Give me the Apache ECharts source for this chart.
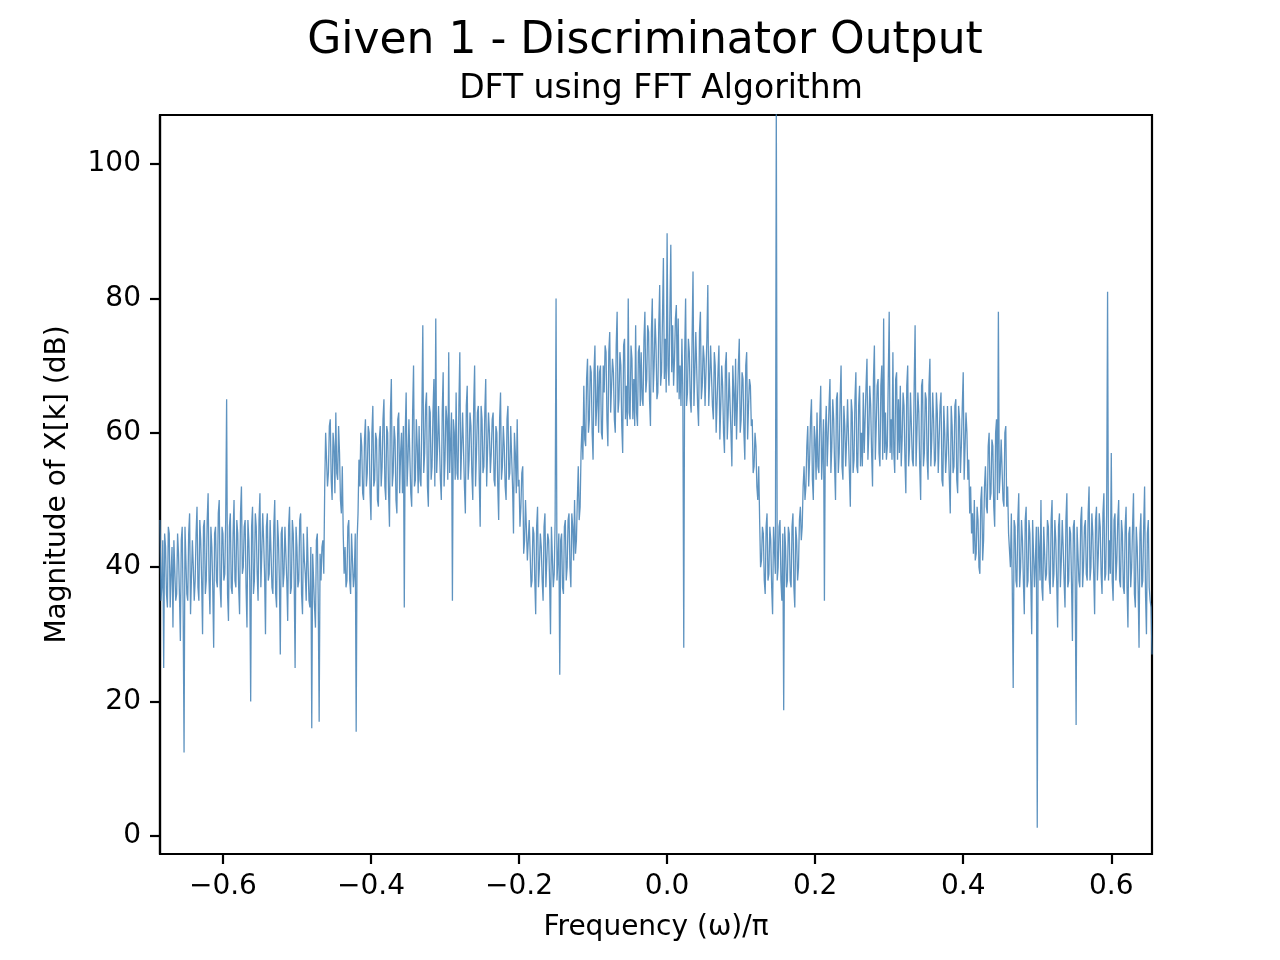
<!DOCTYPE html>
<html>
<head>
  <meta charset="utf-8">
  <title>Discriminator Output</title>
  <script src="https://cdn.jsdelivr.net/npm/echarts@6/dist/echarts.min.js"></script>
</head>
<body style="margin:0; background:#fff">
  <div id="container" style="height: 960px; width: 1280px"></div>
  <script>
    // frequency grid (normalised, omega/pi)
    var freqStart = -0.685
    var freqStep = 0.00125

    // magnitude in dB: even bins, 20 per row (each row 0.05 wide)
    var magRows = [
      [47, 37, 25, 43, 34, 45, 39, 31, 44, 36, 42, 29, 46, 12.4, 41, 35, 48, 33, 40, 38],
      [49, 35, 44, 30, 47, 38, 51, 33, 43, 28, 46, 37, 50, 34, 45, 39, 65, 32, 48, 36],
      [50, 37, 45, 33, 52, 40, 47, 31, 44, 20, 49, 38, 46, 35, 51, 42, 44, 30, 48, 39],
      [47, 36, 50, 34, 44, 27, 46, 39, 42, 32, 49, 37, 45, 25, 43, 38, 48, 33, 41, 35],
      [46, 34, 16, 42, 31, 45, 17, 38, 44, 52, 60, 54, 62, 50, 58, 63, 53, 57, 48, 45],
      [43, 38, 47, 36, 41, 39, 15.5, 48, 52, 58, 50, 62, 54, 60, 47, 64, 53, 59, 49, 61],
      [55, 65, 50, 60, 46, 68, 54, 59, 48, 63, 57, 51, 34, 66, 56, 62, 49, 70, 53, 58],
      [61, 52, 76, 57, 66, 49, 63, 55, 68, 77, 58, 64, 50, 69, 56, 62, 72, 54, 35, 60],
      [66, 53, 72, 58, 63, 48, 67, 56, 61, 50, 70, 57, 64, 46, 62, 55, 68, 52, 60, 57],
      [63, 52, 60, 47, 66, 55, 58, 50, 64, 54, 61, 45, 57, 62, 53, 49, 55, 44, 50, 41],
      [47, 38, 45, 33, 49, 40, 43, 35, 48, 37, 44, 30, 46, 39, 80, 41, 24, 45, 36, 47],
      [40, 48, 37, 46, 50, 44, 55, 49, 61, 67, 58, 71, 62, 69, 56, 73, 64, 60, 70, 59],
      [66, 72, 58, 75, 63, 69, 60, 78, 65, 70, 57, 74, 67, 80, 62, 71, 68, 76, 61, 73],
      [72, 64, 78, 68, 75, 61, 80, 70, 73, 66, 82, 69, 86, 74, 89.7, 67, 88, 76, 71, 79],
      [77, 70, 74, 28, 80, 66, 72, 63, 84, 69, 75, 61, 78, 67, 71, 64, 82, 68, 73, 62],
      [70, 60, 73, 64, 67, 57, 72, 63, 69, 55, 66, 71, 59, 74, 62, 68, 56, 72, 64, 67],
      [62, 55, 58, 50, 47, 41, 45, 36, 48, 39, 44, 33, 46, 110, 40, 47, 35, 18.7, 43, 38],
      [45, 37, 48, 34, 44, 40, 49, 46, 55, 52, 61, 56, 65, 50, 59, 63, 54, 67, 57, 35],
      [64, 55, 68, 58, 62, 50, 66, 57, 70, 53, 61, 59, 65, 49, 63, 56, 69, 54, 67, 60],
      [66, 57, 71, 60, 64, 52, 73, 61, 68, 55, 70, 77, 63, 58, 78, 62, 72, 54, 69, 65],
      [67, 59, 64, 51, 70, 58, 66, 55, 76, 60, 63, 50, 68, 57, 65, 53, 71, 59, 62, 56],
      [63, 54, 66, 52, 60, 57, 64, 48, 61, 55, 65, 51, 62, 58, 69, 53, 60, 56, 52, 48],
      [50, 42, 47, 39, 52, 44, 55, 48, 60, 51, 58, 46, 62, 78, 54, 59, 49, 61, 52, 45],
      [48, 22, 46, 37, 51, 40, 44, 33, 49, 38, 45, 30, 47, 41, 1.2, 43, 50, 35, 42, 39],
      [46, 36, 50, 39, 44, 31, 48, 41, 43, 34, 51, 38, 45, 29, 47, 16.5, 42, 37, 49, 40],
      [47, 38, 52, 40, 45, 33, 49, 42, 46, 36, 51, 39, 81, 44, 57, 35, 48, 41, 50, 37],
      [45, 36, 49, 31, 46, 40, 51, 34, 43, 28, 48, 38, 52, 30, 47, 35, 27]
    ]

    // odd bins (between the even ones), same row layout
    var midRows = [
      [35, 44, 45, 36, 46, 34, 43, 44, 35, 45, 36, 44, 34, 46, 36, 45, 33, 44, 35, 45],
      [37, 47, 38, 46, 36, 47, 38, 46, 37, 45, 38, 48, 37, 46, 38, 47, 36, 46, 37, 45],
      [38, 47, 37, 48, 39, 46, 37, 47, 38, 46, 36, 48, 39, 47, 37, 48, 39, 46, 38, 47],
      [37, 46, 36, 47, 38, 45, 37, 46, 38, 46, 36, 47, 38, 46, 37, 47, 36, 45, 39, 46],
      [35, 43, 42, 34, 44, 35, 42, 43, 39, 60, 52, 61, 53, 60, 51, 54, 61, 50, 55, 39],
      [37, 46, 38, 45, 37, 45, 44, 56, 60, 51, 59, 52, 61, 51, 60, 52, 60, 50, 59, 52],
      [62, 52, 61, 51, 63, 52, 61, 50, 62, 51, 60, 61, 60, 52, 62, 51, 63, 52, 62, 51],
      [53, 63, 54, 64, 52, 64, 53, 63, 52, 54, 64, 53, 63, 52, 64, 53, 54, 63, 62, 53],
      [54, 64, 53, 63, 52, 64, 53, 63, 54, 64, 52, 63, 53, 64, 54, 63, 52, 63, 54, 62],
      [53, 61, 52, 62, 53, 61, 52, 62, 53, 61, 52, 60, 51, 52, 46, 54, 42, 50, 41, 47],
      [37, 46, 38, 46, 37, 45, 38, 46, 37, 45, 38, 46, 37, 47, 38, 45, 44, 37, 46, 38],
      [47, 40, 48, 41, 42, 50, 47, 57, 56, 59, 68, 60, 70, 60, 69, 61, 70, 69, 60, 70],
      [73, 62, 72, 63, 71, 62, 73, 63, 72, 61, 73, 62, 61, 63, 73, 62, 61, 63, 72, 64],
      [65, 74, 66, 76, 65, 75, 66, 77, 65, 76, 67, 77, 68, 66, 70, 78, 69, 67, 77, 66],
      [65, 64, 66, 72, 64, 74, 65, 74, 64, 75, 64, 75, 65, 73, 64, 74, 64, 73, 64, 72],
      [60, 69, 59, 70, 60, 70, 59, 69, 60, 70, 61, 59, 70, 60, 69, 60, 70, 59, 68, 61],
      [54, 60, 52, 55, 40, 46, 38, 46, 38, 46, 37, 46, 39, 38, 46, 38, 45, 46, 37, 46],
      [38, 46, 37, 46, 38, 47, 44, 52, 50, 58, 52, 62, 53, 61, 53, 55, 62, 53, 62, 60],
      [55, 64, 54, 65, 55, 65, 54, 65, 55, 64, 55, 65, 54, 65, 54, 65, 55, 64, 55, 55],
      [57, 67, 56, 67, 57, 68, 56, 67, 57, 67, 56, 57, 56, 68, 57, 56, 57, 68, 56, 57],
      [55, 66, 56, 67, 55, 66, 56, 67, 55, 66, 55, 67, 55, 66, 56, 67, 55, 66, 55, 66],
      [54, 64, 53, 64, 54, 64, 53, 64, 54, 64, 53, 64, 54, 64, 53, 63, 53, 48, 45, 42],
      [41, 49, 40, 50, 41, 52, 49, 58, 50, 59, 49, 60, 50, 51, 59, 50, 60, 49, 45, 40],
      [37, 47, 38, 47, 37, 47, 38, 47, 37, 47, 38, 47, 37, 46, 46, 38, 37, 46, 38, 47],
      [38, 47, 37, 47, 38, 46, 37, 47, 38, 47, 37, 46, 38, 46, 38, 46, 38, 47, 37, 46],
      [39, 48, 38, 48, 39, 47, 38, 48, 39, 48, 38, 48, 38, 39, 38, 47, 38, 47, 38, 47],
      [37, 46, 37, 45, 37, 46, 36, 46, 37, 45, 37, 46, 36, 45, 37, 34]
    ]

    var xTicks = [-0.6, -0.4, -0.2, 0.0, 0.2, 0.4, 0.6]
    var yTicks = [0, 20, 40, 60, 80, 100]

    // put the two sets of bins back in frequency order
    var mag = []
    magRows.forEach(function (row, r) {
      row.forEach(function (v, i) {
        mag.push(v)
        if (midRows[r][i] !== undefined) mag.push(midRows[r][i])
      })
    })
    var points = mag.map(function (v, i) {
      return [+(freqStart + i * freqStep).toFixed(5), v]
    })

    var font = "'DejaVu Sans', sans-serif"
    var myChart = echarts.init(document.getElementById('container'))

    var option = {
      animation: false,
      backgroundColor: '#fff',
      title: [
        {
          text: 'Given 1 - Discriminator Output',
          left: 640, top: 15, textAlign: 'center',
          textStyle: { fontFamily: font, fontSize: 44, fontWeight: 'normal', color: '#000' }
        },
        {
          text: 'DFT using FFT Algorithm',
          left: 656, top: 68, textAlign: 'center',
          textStyle: { fontFamily: font, fontSize: 33, fontWeight: 'normal', color: '#000' }
        }
      ],
      grid: {
        left: 160, top: 115, width: 992, height: 739,
        show: true, borderColor: '#000', borderWidth: 2.2, backgroundColor: 'transparent'
      },
      xAxis: {
        type: 'value',
        min: -0.685, max: 0.655,
        name: 'Frequency (ω)/π',
        nameLocation: 'middle', nameGap: 60,
        nameTextStyle: { fontFamily: font, fontSize: 28, color: '#000' },
        axisLine: { show: true, onZero: false, lineStyle: { color: '#000', width: 2.2 } },
        axisTick: { show: true, customValues: xTicks, length: 10, lineStyle: { color: '#000', width: 2.2 } },
        axisLabel: {
          customValues: xTicks, margin: 19,
          fontFamily: font, fontSize: 28, color: '#000',
          formatter: function (v) { return (v < 0 ? '\u2212' : '') + Math.abs(v).toFixed(1) }
        },
        splitLine: { show: false }
      },
      yAxis: {
        type: 'value',
        min: -2.7, max: 107.3,
        name: 'Magnitude of X[k] (dB)',
        nameLocation: 'middle', nameGap: 88, nameRotate: 90,
        nameTextStyle: { fontFamily: font, fontSize: 28, color: '#000' },
        axisLine: { show: true, onZero: false, lineStyle: { color: '#000', width: 2.2 } },
        axisTick: { show: true, customValues: yTicks, length: 10, lineStyle: { color: '#000', width: 2.2 } },
        axisLabel: {
          customValues: yTicks, margin: 19,
          fontFamily: font, fontSize: 28, color: '#000'
        },
        splitLine: { show: false }
      },
      series: [{
        type: 'line',
        data: points,
        showSymbol: false,
        symbol: 'none',
        lineStyle: { color: '#4280b5', width: 1.3, opacity: 0.85 },
        clip: true
      }]
    }
    myChart.setOption(option)
  </script>
</body>
</html>
